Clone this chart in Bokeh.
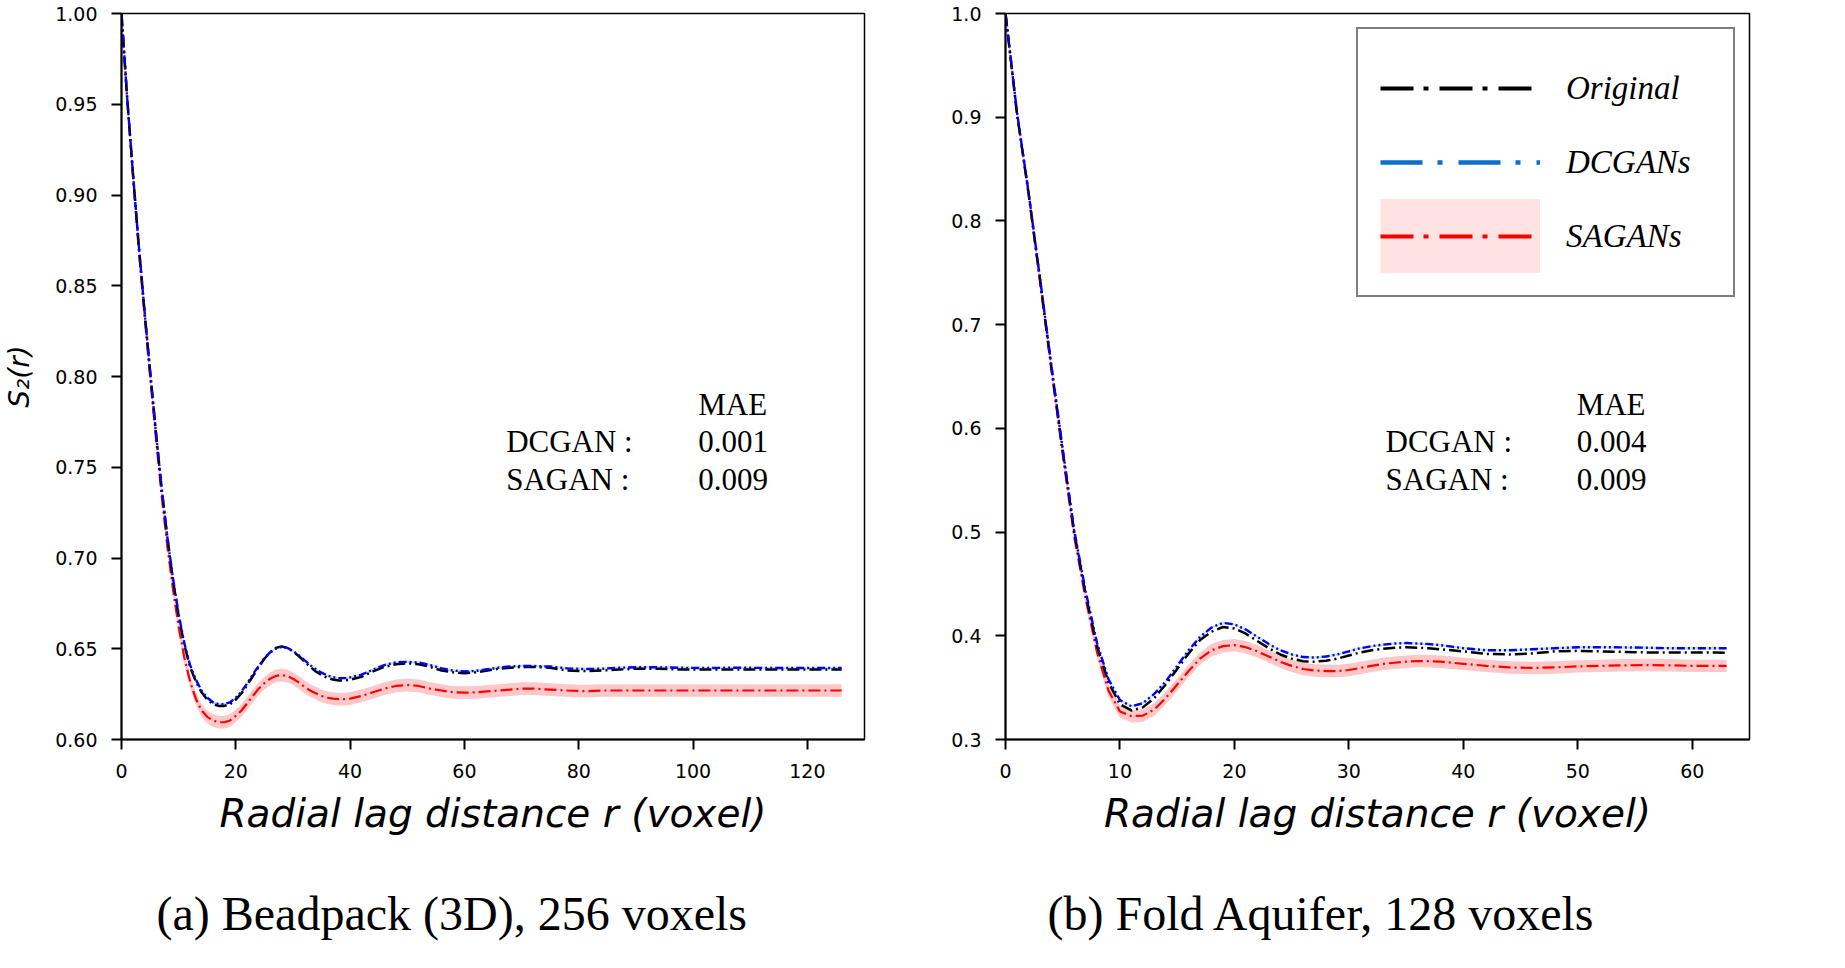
import numpy as np
from bokeh.plotting import figure
from bokeh.models import (Range1d, FixedTicker, PrintfTickFormatter, Label,
                          Legend, LegendItem)
from bokeh.layouts import row, column
from bokeh.embed import file_html
from bokeh.resources import INLINE

# ---------------- data: (a) Beadpack (3D), 256 voxels ----------------
r_a = list(range(0, 41)) + list(range(42, 73, 2)) + [75, 78, 81, 84, 87, 90, 94, 98, 102, 106, 110, 114, 118, 122, 126]

orig_a = [1.000, 0.953, 0.912, 0.873, 0.837, 0.803, 0.770, 0.739, 0.712, 0.688, 0.668,
          0.652, 0.640, 0.632, 0.626, 0.622, 0.6195, 0.6185, 0.6185, 0.6195, 0.622,
          0.6255, 0.630, 0.635, 0.640, 0.6445, 0.648, 0.6505, 0.6513, 0.6505, 0.6485,
          0.646, 0.643, 0.640, 0.6375, 0.6355, 0.634, 0.633, 0.6325, 0.6325, 0.633,
          0.6345, 0.6375, 0.640, 0.6415, 0.642, 0.6415, 0.640, 0.638, 0.637, 0.6365, 0.637, 0.638, 0.639, 0.6395, 0.640, 0.640,
          0.6395, 0.638, 0.6377, 0.638, 0.6385, 0.639, 0.639, 0.6385, 0.6385, 0.6385, 0.6385, 0.6385, 0.6385, 0.6385, 0.6385]

dcgan_a = [1.000, 0.953, 0.912, 0.873, 0.837, 0.803, 0.770, 0.739, 0.712, 0.689, 0.669,
           0.653, 0.641, 0.633, 0.627, 0.623, 0.6205, 0.6195, 0.6195, 0.6205, 0.623,
           0.6265, 0.631, 0.636, 0.6405, 0.6448, 0.648, 0.650, 0.651, 0.6505, 0.6488,
           0.6465, 0.6437, 0.641, 0.6387, 0.6368, 0.6353, 0.6343, 0.6338, 0.6338, 0.6342,
           0.6357, 0.6385, 0.641, 0.6425, 0.6428, 0.6424, 0.641, 0.6392, 0.638, 0.6375, 0.6378, 0.6387, 0.6396, 0.6402, 0.6405, 0.6405,
           0.6402, 0.6392, 0.6388, 0.639, 0.6395, 0.6398, 0.6398, 0.6395, 0.6394, 0.6395, 0.6395, 0.6394, 0.6394, 0.6394, 0.6394]

sagan_a = [1.000, 0.953, 0.911, 0.871, 0.835, 0.800, 0.767, 0.735, 0.707, 0.683, 0.662,
           0.645, 0.632, 0.6225, 0.616, 0.6125, 0.6105, 0.6095, 0.6095, 0.6105, 0.613,
           0.616, 0.620, 0.624, 0.628, 0.631, 0.6335, 0.635, 0.6355, 0.635, 0.6335,
           0.6315, 0.629, 0.627, 0.6255, 0.624, 0.623, 0.6225, 0.6222, 0.6222, 0.6225,
           0.624, 0.626, 0.628, 0.6295, 0.630, 0.6295, 0.628, 0.627, 0.626, 0.6258, 0.626, 0.6265, 0.627, 0.6275, 0.628, 0.628,
           0.6275, 0.627, 0.6266, 0.627, 0.627, 0.627, 0.627, 0.627, 0.627, 0.627, 0.627, 0.627, 0.627, 0.627, 0.627]

sagan_std_a = 0.0035
dcgan_std_a = 0.0007

# ---------------- data: (b) Fold Aquifer, 128 voxels ----------------
r_b = list(range(0, 41)) + list(range(42, 63, 2)) + [63]

orig_b = [1.000, 0.904, 0.828, 0.745, 0.660, 0.578, 0.500, 0.440, 0.390, 0.355, 0.334,
          0.328, 0.331, 0.340, 0.353, 0.368, 0.383, 0.396, 0.404, 0.4085, 0.407,
          0.402, 0.395, 0.388, 0.382, 0.378, 0.3755, 0.375, 0.376, 0.378, 0.381,
          0.384, 0.386, 0.3875, 0.3885, 0.389, 0.3885, 0.388, 0.387, 0.386, 0.385,
          0.3825, 0.382, 0.383, 0.385, 0.3855, 0.385, 0.3845, 0.384, 0.384, 0.384, 0.384,
          0.3837]

dcgan_b = [1.000, 0.905, 0.829, 0.746, 0.661, 0.580, 0.502, 0.443, 0.393, 0.358, 0.338,
           0.332, 0.335, 0.344, 0.356, 0.371, 0.386, 0.399, 0.408, 0.4125, 0.411,
           0.406, 0.399, 0.392, 0.386, 0.382, 0.3795, 0.379, 0.380, 0.382, 0.385,
           0.388, 0.390, 0.3915, 0.3925, 0.393, 0.3925, 0.392, 0.391, 0.3895, 0.388,
           0.386, 0.386, 0.387, 0.388, 0.389, 0.389, 0.3888, 0.3885, 0.388, 0.388, 0.388,
           0.388]

sagan_b = [1.000, 0.904, 0.827, 0.743, 0.657, 0.575, 0.496, 0.436, 0.384, 0.347, 0.327,
           0.3225, 0.323, 0.329, 0.340, 0.353, 0.366, 0.378, 0.386, 0.390, 0.391,
           0.389, 0.385, 0.380, 0.375, 0.371, 0.368, 0.3665, 0.366, 0.366, 0.367,
           0.369, 0.371, 0.373, 0.374, 0.375, 0.3757, 0.3755, 0.375, 0.374, 0.373,
           0.371, 0.3695, 0.369, 0.3695, 0.3705, 0.371, 0.3715, 0.3718, 0.3715, 0.371, 0.371,
           0.371]

sagan_std_b = 0.006
dcgan_std_b = 0.0012

# ---------------- texts ----------------
x_label = "Radial lag distance r (voxel)"
y_label = "S\u2082(r)"
captions = ["(a) Beadpack (3D), 256 voxels", "(b) Fold Aquifer, 128 voxels"]
mae_rows = ["DCGAN :", "SAGAN :"]
mae_a = ["0.001", "0.009"]
mae_b = ["0.004", "0.009"]
legend_labels = ["Original", "DCGANs", "SAGANs"]

xticks_a = [0, 20, 40, 60, 80, 100, 120]
yticks_a = [0.60, 0.65, 0.70, 0.75, 0.80, 0.85, 0.90, 0.95, 1.00]
xticks_b = [0, 10, 20, 30, 40, 50, 60]
yticks_b = [0.3, 0.4, 0.5, 0.6, 0.7, 0.8, 0.9, 1.0]

SANS = "DejaVu Sans"
SERIF = "Liberation Serif"


def style(p, xticks, yticks, yfmt):
    p.xgrid.visible = False
    p.ygrid.visible = False
    p.outline_line_color = "black"
    p.outline_line_width = 1.5
    p.background_fill_color = "white"
    p.border_fill_color = "white"
    p.xaxis.ticker = FixedTicker(ticks=xticks)
    p.yaxis.ticker = FixedTicker(ticks=yticks)
    p.yaxis.formatter = PrintfTickFormatter(format=yfmt)
    for ax in (p.xaxis[0], p.yaxis[0]):
        ax.major_tick_out = 10
        ax.major_tick_in = 0
        ax.minor_tick_out = 0
        ax.minor_tick_in = 0
        ax.axis_line_width = 2
        ax.axis_line_color = "black"
        ax.major_tick_line_width = 2
        ax.major_tick_line_color = "black"
        ax.major_label_text_font = SANS
        ax.major_label_text_font_size = "19px"
        ax.major_label_text_color = "black"
    p.xaxis.major_label_standoff = 14
    p.yaxis.major_label_standoff = 14
    p.xaxis.axis_label = x_label
    p.xaxis.axis_label_text_font = SANS
    p.xaxis.axis_label_text_font_style = "italic"
    p.xaxis.axis_label_text_font_size = "39px"
    p.xaxis.axis_label_text_color = "black"
    p.xaxis.axis_label_standoff = 10


def draw(p, r, orig, dcgan, sagan, s_std, d_std):
    p.varea(x=r, y1=[v - s_std for v in sagan], y2=[v + s_std for v in sagan],
            fill_color="#ff0000", fill_alpha=0.22)
    p.varea(x=r, y1=[v - d_std for v in dcgan], y2=[v + d_std for v in dcgan],
            fill_color="#7fd07f", fill_alpha=0.45)
    p.line(r, sagan, line_color="#ff0000", line_width=2.2, line_dash="12 4 2 4")
    p.line(r, orig, line_color="black", line_width=2.5, line_dash="12 4 2 4")
    p.line(r, dcgan, line_color="#0000ff", line_width=2.4, line_dash="8 3 2 3 2 3")


def add_mae(p, x_name, x_val, y_rows, vals):
    font = dict(text_font=SERIF, text_font_size="31px", text_color="black",
                text_baseline="alphabetic")
    p.add_layout(Label(x=x_val, y=y_rows[0], text="MAE", **font))
    for i in range(2):
        p.add_layout(Label(x=x_name, y=y_rows[i + 1], text=mae_rows[i], **font))
        p.add_layout(Label(x=x_val, y=y_rows[i + 1], text=vals[i], **font))


def caption_fig(width, text, x0):
    c = figure(width=width, height=110, x_range=Range1d(0, width), y_range=Range1d(0, 110),
               x_axis_type=None, y_axis_type=None, output_backend="svg",
               toolbar_location=None, min_border=0, outline_line_color=None)
    c.xgrid.visible = False
    c.ygrid.visible = False
    c.add_layout(Label(x=x0, y=47, text=text, text_font=SERIF, text_font_size="48px",
                       text_color="black", text_baseline="alphabetic"))
    return c


# ---------------- left figure ----------------
p1 = figure(width=908, height=850, x_range=Range1d(0, 130), y_range=Range1d(0.60, 1.00),
            output_backend="svg", toolbar_location=None,
            min_border_left=121, min_border_right=44, min_border_top=13, min_border_bottom=111)
style(p1, xticks_a, yticks_a, "%.2f")
p1.yaxis.axis_label = y_label
p1.yaxis.axis_label_text_font = SANS
p1.yaxis.axis_label_text_font_style = "italic"
p1.yaxis.axis_label_text_font_size = "28px"
p1.yaxis.axis_label_text_color = "black"
p1.yaxis.axis_label_standoff = 16
draw(p1, r_a, orig_a, dcgan_a, sagan_a, sagan_std_a, dcgan_std_a)
add_mae(p1, 67.3, 100.9, [0.7847, 0.7643, 0.7434], mae_a)

# ---------------- right figure ----------------
p2 = figure(width=929, height=850, x_range=Range1d(0, 65), y_range=Range1d(0.3, 1.0),
            output_backend="svg", toolbar_location=None,
            min_border_left=97, min_border_right=88, min_border_top=13, min_border_bottom=111)
style(p2, xticks_b, yticks_b, "%.1f")
draw(p2, r_b, orig_b, dcgan_b, sagan_b, sagan_std_b, dcgan_std_b)
add_mae(p2, 33.2, 49.9, [0.6226, 0.5869, 0.5503], mae_b)

# legend-only renderers (legend styling differs from the plotted lines); NaN -> nothing drawn
nan = np.array([np.nan])
lg_orig = p2.line(x=nan, y=nan, line_color="black", line_width=4, line_dash="33 10 5 11")
lg_dc = p2.line(x=nan, y=nan, line_color="#0a70c8", line_width=4.5, line_dash="42 15 5 16")
lg_sa_band = p2.line(x=nan, y=nan, line_color="#ffe2e2", line_width=89)
lg_sa = p2.line(x=nan, y=nan, line_color="#ff0000", line_width=4, line_dash="33 10 5 11")

legend = Legend(items=[LegendItem(label=legend_labels[0], renderers=[lg_orig]),
                       LegendItem(label=legend_labels[1], renderers=[lg_dc]),
                       LegendItem(label=legend_labels[2], renderers=[lg_sa_band, lg_sa])],
                location="top_right", margin=14, padding=22, spacing=0,
                glyph_width=160, glyph_height=74, label_height=74, label_width=145,
                label_standoff=26,
                label_text_font=SERIF, label_text_font_style="italic",
                label_text_font_size="33px", label_text_color="black",
                label_text_baseline="middle",
                border_line_color="black", border_line_width=2.5,
                background_fill_color="white", background_fill_alpha=1.0)
p2.add_layout(legend, "center")

c1 = caption_fig(908, captions[0], 156)
c2 = caption_fig(929, captions[1], 139)

layout = column(row(p1, p2), row(c1, c2))
open("out.html", "w").write(file_html(layout, INLINE))
